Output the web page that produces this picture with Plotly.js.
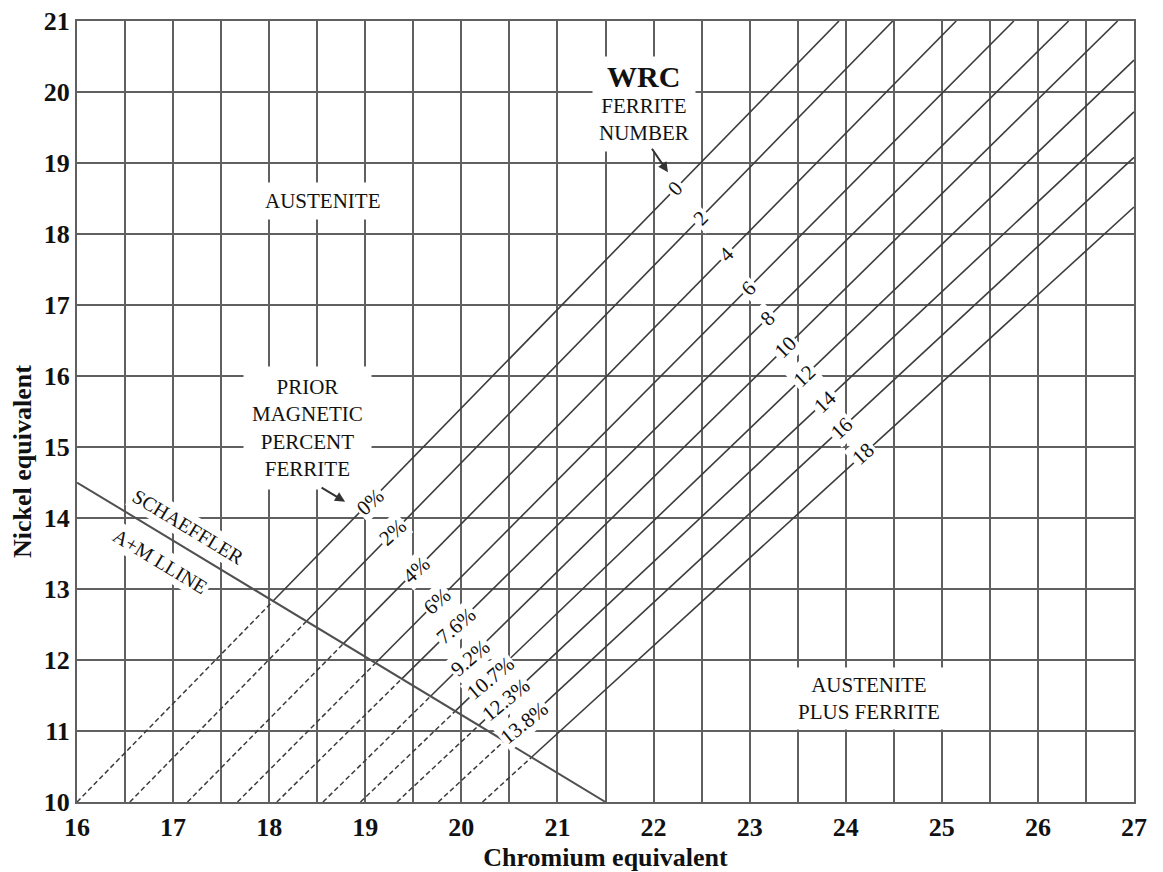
<!DOCTYPE html>
<html><head><meta charset="utf-8">
<script src="https://cdn.plot.ly/plotly-3.0.1.min.js"></script>
<style>html,body{margin:0;padding:0;background:#fff}#chart{width:1163px;height:872px}</style>
</head><body><div id="chart"></div>
<script>
// ---- data ----
const ferriteNumbers = [0, 2, 4, 6, 8, 10, 12, 14, 16, 18];
const magneticPercent = ['0%', '2%', '4%', '6%', '7.6%', '9.2%', '10.7%', '12.3%', '13.8%', ''];
const lineStartCr = [16.0, 16.55, 17.15, 17.67, 18.08, 18.56, 18.95, 19.33, 19.76, 20.22];
const lineStartNi = [10, 10, 10, 10, 10, 10, 10, 10, 10, 10];
const lineEndCr = [23.93, 24.49, 25.15, 25.75, 26.32, 26.83, 27, 27, 27, 27];
const lineEndNi = [21, 21, 21, 21, 21, 21, 20.45, 19.72, 19.08, 18.38];
const schaefflerCr = [16, 21.5];
const schaefflerNi = [14.5, 10];
const crTicks = [16, 17, 18, 19, 20, 21, 22, 23, 24, 25, 26, 27];
const niTicks = [10, 11, 12, 13, 14, 15, 16, 17, 18, 19, 20, 21];

// ---- layout constants ----
const W = 1163, H = 872;
const M = {l: 77, r: 29, t: 21, b: 70};
const pxPerCr = (W - M.l - M.r) / 11;
const pxPerNi = (H - M.t - M.b) / 11;
const pctLabelCr = [19.05, 19.29, 19.53, 19.75, 19.94, 20.09, 20.30, 20.46, 20.65];
const fnLabelCr = [22.23, 22.49, 22.76, 22.99, 23.19, 23.375, 23.57, 23.78, 23.96, 24.18];

const SERIF = 'Liberation Serif, Times New Roman, serif';
const GRID = '#606060';
const LINEC = '#3c3c3c';

const traces = [];
const annotations = [];

const sS = (schaefflerNi[1] - schaefflerNi[0]) / (schaefflerCr[1] - schaefflerCr[0]);
function slopeOf(i) {
  return (lineEndNi[i] - lineStartNi[i]) / (lineEndCr[i] - lineStartCr[i]);
}
function niOn(i, cr) {
  return lineStartNi[i] + slopeOf(i) * (cr - lineStartCr[i]);
}
function angleOf(i) {
  return -Math.atan(slopeOf(i) * pxPerNi / pxPerCr) * 180 / Math.PI;
}

ferriteNumbers.forEach((fn, i) => {
  const s = slopeOf(i);
  // crossing with the Schaeffler A+M line: dashed below, solid above
  const xi = (schaefflerNi[0] - sS * schaefflerCr[0] - lineStartNi[i] + s * lineStartCr[i]) / (s - sS);
  const yi = niOn(i, xi);
  traces.push({
    type: 'scatter', mode: 'lines', x: [lineStartCr[i], xi], y: [lineStartNi[i], yi],
    line: {color: LINEC, width: 1.5, dash: '5px,3px'}, hoverinfo: 'skip', showlegend: false
  });
  traces.push({
    type: 'scatter', mode: 'lines', x: [xi, lineEndCr[i]], y: [yi, lineEndNi[i]],
    line: {color: LINEC, width: 1.6}, hoverinfo: 'skip', showlegend: false,
    name: 'FN ' + fn
  });
  annotations.push({
    x: fnLabelCr[i], y: niOn(i, fnLabelCr[i]), xref: 'x', yref: 'y',
    text: String(fn), showarrow: false, textangle: angleOf(i),
    font: {family: SERIF, size: 21, color: '#111'}, bgcolor: '#fff', borderpad: 2
  });
  if (magneticPercent[i]) {
    annotations.push({
      x: pctLabelCr[i], y: niOn(i, pctLabelCr[i]), xref: 'x', yref: 'y',
      text: magneticPercent[i], showarrow: false, textangle: angleOf(i) + 4,
      font: {family: SERIF, size: 21, color: '#111'}, bgcolor: '#fff', borderpad: 1
    });
  }
});

traces.push({
  type: 'scatter', mode: 'lines', x: schaefflerCr, y: schaefflerNi,
  line: {color: '#505050', width: 2}, hoverinfo: 'skip', showlegend: false
});

const schAngle = -Math.atan(sS * pxPerNi / pxPerCr) * 180 / Math.PI;
const txt = (x, y, text, size, extra) => Object.assign({
  x, y, xref: 'x', yref: 'y', text, showarrow: false,
  font: {family: SERIF, size, color: '#111'}, bgcolor: '#fff', borderpad: 6
}, extra || {});

annotations.push(txt(18.55, 18.46, 'AUSTENITE', 21));
annotations.push(txt(18.40, 15.27, 'PRIOR<br>MAGNETIC<br>PERCENT<br>FERRITE', 21, {borderpad: 8}));
annotations.push(txt(21.90, 19.61, 'FERRITE<br>NUMBER', 21, {borderpad: 6}));
annotations.push(txt(21.90, 20.22, '<b>WRC</b>', 30, {borderpad: 3}));
annotations.push(txt(24.24, 11.46, 'AUSTENITE<br>PLUS FERRITE', 21, {borderpad: 5}));
annotations.push(txt(17.16, 13.87, 'SCHAEFFLER', 20, {textangle: schAngle, borderpad: 2}));
annotations.push(txt(16.86, 13.39, 'A+M LLINE', 20, {textangle: schAngle, borderpad: 2}));

// arrows
annotations.push({x: 18.79, y: 14.23, xref: 'x', yref: 'y', text: '', showarrow: true,
  ax: -25, ay: -15, arrowhead: 2, arrowsize: 1, arrowwidth: 2, arrowcolor: '#333', standoff: 0});
annotations.push({x: 22.15, y: 18.87, xref: 'x', yref: 'y', text: '', showarrow: true,
  ax: -17, ay: -25, arrowhead: 2, arrowsize: 1, arrowwidth: 2, arrowcolor: '#333', standoff: 0});

// y-axis title (sits below the plot's vertical centre in the reference)
annotations.push({
  xref: 'paper', yref: 'paper', x: (22 - M.l) / (W - M.l - M.r), y: (802 - 462) / (H - M.t - M.b),
  xanchor: 'center', yanchor: 'middle', text: 'Nickel equivalent', textangle: -90, showarrow: false,
  font: {family: SERIF, size: 26, color: '#111', weight: 'bold'}
});

const axisCommon = {
  showgrid: true, gridcolor: GRID, gridwidth: 2, zeroline: false,
  showline: true, mirror: true, linecolor: GRID, linewidth: 2,
  ticks: '', tickfont: {family: SERIF, size: 26, color: '#111', weight: 'bold'},
  fixedrange: true
};

const layout = {
  width: W, height: H, margin: M, paper_bgcolor: '#fff', plot_bgcolor: '#fff',
  showlegend: false,
  xaxis: Object.assign({}, axisCommon, {
    range: [16, 27], tickmode: 'array', tickvals: crTicks, ticktext: crTicks.map(String),
    minor: {dtick: 0.5, tick0: 16, showgrid: true, gridcolor: GRID, gridwidth: 2},
    ticklabelstandoff: 1,
    title: {text: 'Chromium equivalent', standoff: 14,
      font: {family: SERIF, size: 26, color: '#111', weight: 'bold'}}
  }),
  yaxis: Object.assign({}, axisCommon, {
    range: [10, 21], tickmode: 'array', tickvals: niTicks, ticktext: niTicks.map(String),
    ticklabelstandoff: 0
  }),
  annotations
};

Plotly.newPlot('chart', traces, layout, {staticPlot: true, displayModeBar: false});
</script>
</body></html>
